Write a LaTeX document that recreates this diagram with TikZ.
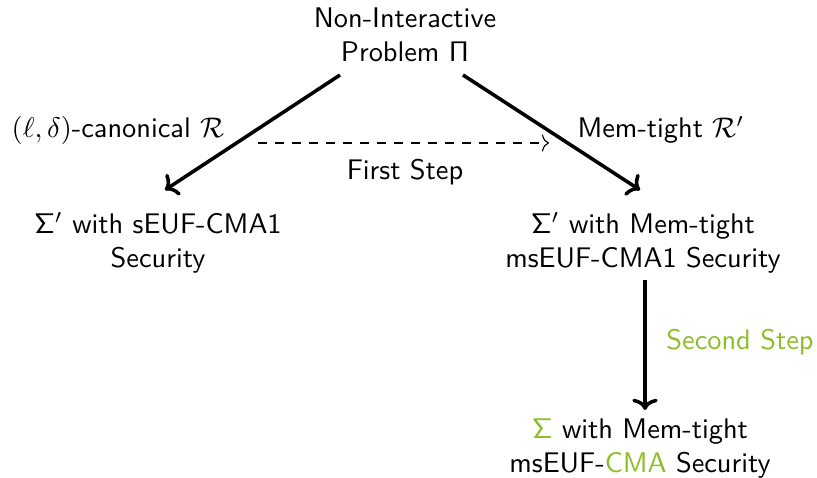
\documentclass[tikz,border=0pt]{standalone}
\usetikzlibrary{arrows.meta}
\definecolor{lime}{RGB}{140,190,40}
\begin{document}
\begin{tikzpicture}[x=0.3527pt,y=-0.3527pt,
  every node/.style={font=\sffamily, align=center, inner sep=1pt},
  box/.style={},
  lbl/.style={},
  main/.style={line width=1.25pt,-{To[length=4pt,width=9pt]}}]
\useasboundingbox (0,0) rectangle (817,478);
\node[box] (top) at (405,35) {Non-Interactive\\Problem $\mathsf{\Pi}$};
\node[box] (left) at (158,243) {$\mathsf{\Sigma}'$ with sEUF-CMA1\\Security};
\node[box] (right) at (643,243) {$\mathsf{\Sigma}'$ with Mem-tight\\msEUF-CMA1 Security};
\node[box] (bot) at (640,449) {\textcolor{lime}{$\mathsf{\Sigma}$} with Mem-tight\\msEUF-\textcolor{lime}{CMA} Security};
\coordinate (ta) at (340,75);
\coordinate (la) at (165,190);
\coordinate (tb) at (463,75);
\coordinate (rb) at (640,190);
\coordinate (rc) at (645,280);
\coordinate (bc) at (645,410);
\draw[main] (ta) -- (la);
\draw[main] (tb) -- (rb);
\draw[main] (rc) -- (bc);
\coordinate (d1) at (258,143);
\coordinate (d2) at (549,143);
\draw[dashed,-{To[length=2.5pt,width=6pt]}] (d1) -- (d2);
\node[lbl] (l1) at (118,130) {$(\ell,\delta)$-canonical $\mathcal{R}$};
\node[lbl] (l2) at (661,130) {Mem-tight $\mathcal{R}'$};
\node[lbl] (l3) at (405,172) {First Step};
\node[lbl,text=lime] (l4) at (740,342) {Second Step};
\end{tikzpicture}
\end{document}
